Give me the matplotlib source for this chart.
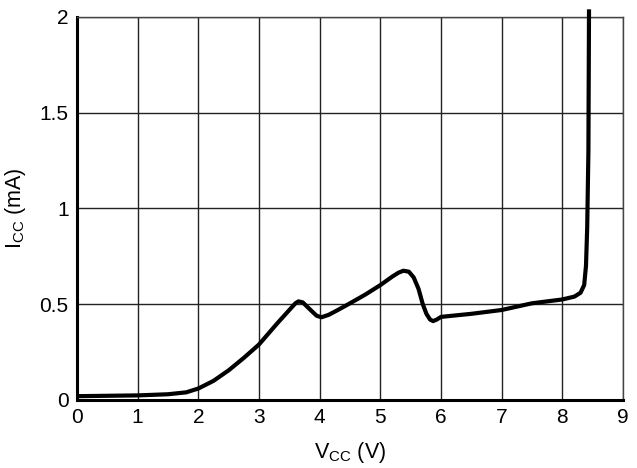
import matplotlib
matplotlib.use("Agg")
import matplotlib.pyplot as plt

plt.rcParams['font.family'] = ['Liberation Sans', 'DejaVu Sans']

vcc = [0.0, 0.5, 1.0, 1.5, 1.8, 2.0, 2.25, 2.5, 2.75, 3.0, 3.3, 3.5, 3.6, 3.65, 3.72,
       3.85, 3.95, 4.03, 4.15, 4.3, 4.5, 4.75, 5.0, 5.2, 5.3, 5.38, 5.47, 5.55, 5.63,
       5.7, 5.76, 5.82, 5.87, 5.93, 6.0, 6.5, 7.0, 7.5, 8.0, 8.2, 8.3, 8.36, 8.39,
       8.41, 8.43, 8.44]
icc = [0.02, 0.022, 0.024, 0.03, 0.04, 0.06, 0.1, 0.155, 0.22, 0.29, 0.40, 0.47,
       0.505, 0.515, 0.51, 0.47, 0.44, 0.432, 0.445, 0.47, 0.505, 0.55, 0.60, 0.645,
       0.665, 0.675, 0.67, 0.64, 0.58, 0.50, 0.45, 0.42, 0.412, 0.42, 0.434, 0.45,
       0.47, 0.505, 0.525, 0.54, 0.56, 0.6, 0.7, 0.9, 1.3, 2.04]

xticks = [0, 1, 2, 3, 4, 5, 6, 7, 8, 9]
yticks = [0, 0.5, 1, 1.5, 2]
yticklabels = ['0', '0.5', '1', '1.5', '2']

fig = plt.figure(figsize=(6.37, 4.68), dpi=100)
ax = fig.add_axes([0.1209, 0.1453, 0.8571, 0.8184])

ax.plot(vcc, icc, color='black', lw=3.0, solid_joinstyle='round',
        solid_capstyle='butt', clip_on=False, zorder=5)

ax.set_xlim(0, 9)
ax.set_ylim(0, 2)
ax.set_xticks(xticks)
ax.set_xticklabels([str(t) for t in xticks])
ax.set_yticks(yticks)
ax.set_yticklabels(yticklabels)
ax.tick_params(length=0, labelsize=15, pad=6, colors='black')
ax.grid(True, color='#222222', lw=1.0)
ax.set_axisbelow(True)

for s in ['top', 'right']:
    ax.spines[s].set_linewidth(1.0)
    ax.spines[s].set_color('#444444')
for s in ['left', 'bottom']:
    ax.spines[s].set_linewidth(2.2)
    ax.spines[s].set_color('black')

ax.set_xlabel(r'$\mathregular{V_{CC}}$ (V)', fontsize=15.5, labelpad=9)
ax.set_ylabel(r'$\mathregular{I_{CC}}$ (mA)', fontsize=15.5, labelpad=8)

fig.savefig('out.png', dpi=100)
